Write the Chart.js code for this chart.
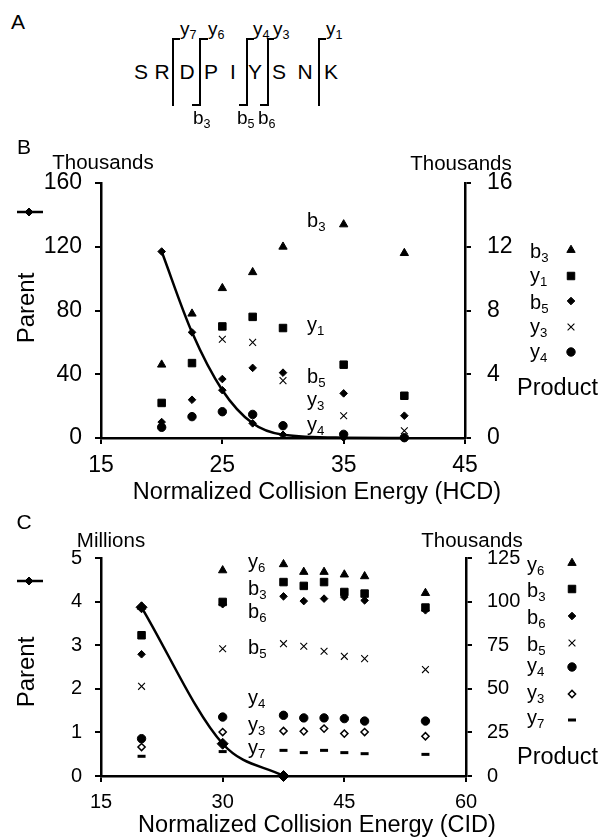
<!DOCTYPE html>
<html>
<head>
<meta charset="utf-8">
<script src="https://cdn.jsdelivr.net/npm/chart.js@4.4.1/dist/chart.umd.min.js"></script>
<style>
  html, body { margin: 0; padding: 0; background: #fff; }
  #page { position: relative; width: 608px; height: 839px; overflow: hidden;
          font-family: "Liberation Sans", Arial, sans-serif; color: #000; }
  .t { position: absolute; line-height: 1; white-space: nowrap; }
  .s { font-size: 0.66em; position: relative; top: 0.3em; }
  .bar { position: absolute; background: #000; }
  canvas { position: absolute; left: 0; }
</style>
</head>
<body>
<div id="page">
  <canvas id="chartB" width="608" height="380" style="top:130px;width:608px;height:380px"></canvas>
  <canvas id="chartC" width="608" height="329" style="top:510px;width:608px;height:329px"></canvas>
</div>
<script>
// ---- HCD (panel B): parent in thousands, products in thousands ----
const energyHCD = [20, 22.5, 25, 27.5, 30, 35, 40];
const parentHCD = [117, 66.3, 30, 9.2, 2.0, 0.2, 0.05];
const hcdB3 = [4.6, 7.8, 9.4, 10.4, 12.0, 13.4, 11.6];
const hcdY1 = [2.2, 4.7, 7.0, 7.6, 6.9, 4.6, 2.65];
const hcdB5 = [1.0, 2.4, 3.7, 4.4, 4.1, 2.8, 1.4];
const hcdY3 = [null, null, 6.2, 6.0, 3.6, 1.4, 0.45];
const hcdY4 = [0.67, 1.34, 1.65, 1.48, 0.77, 0.23, 0.02];
const hcdEnergyTicks = [15, 25, 35, 45];
const hcdParentTicks = [0, 40, 80, 120, 160];
const hcdProductTicks = [0, 4, 8, 12, 16];

// ---- CID (panel C): parent in millions, products in thousands ----
const energyCID = [20, 30, 37.5, 40, 42.5, 45, 47.5, 55];
const parentCID = [3.87, 0.74, 0];
const cidY6 = [97, 117.9, 121.4, 117, 117, 115.5, 114.5, 104.9];
const cidB3 = [80.7, 99.8, 111.2, 109, 111.2, 105.5, 104.6, 96.6];
const cidB6 = [69.8, 98.5, 103, 100.3, 101.7, 102.6, 100.7, 95];
const cidB5 = [51.4, 73, 75.9, 74.4, 71.5, 68.6, 67.3, 61];
const cidY4 = [21.4, 33.8, 34.8, 33.3, 33.3, 32.9, 31.5, 31.5];
const cidY3 = [16.6, 25.2, 25.8, 25.6, 27.2, 24.3, 25.2, 22.8];
const cidY7 = [11.3, 14, 14.7, 13.4, 14.7, 13.4, 12.8, 12.4];
const cidEnergyTicks = [15, 30, 45, 60];
const cidParentTicks = [0, 1, 2, 3, 4, 5];
const cidProductTicks = [0, 25, 50, 75, 100, 125];

const FONT = '"Liberation Sans", Arial, sans-serif';

// marker looks
const M = {
  tri:  { pointStyle: 'triangle', radius: 4.8, bg: '#000', bw: 1 },
  sq:   { pointStyle: 'rect',     radius: 5.3, bg: '#000', bw: 1 },
  dia:  { pointStyle: 'rectRot',  radius: 3.8, bg: '#000', bw: 1 },
  x:    { pointStyle: 'crossRot', radius: 4.8, bg: '#000', bw: 1.1 },
  dot:  { pointStyle: 'circle',   radius: 4.2, bg: '#000', bw: 1 },
  odia: { pointStyle: 'rectRot',  radius: 3.6, bg: '#fff', bw: 1.5 },
  dash: { pointStyle: 'line',     radius: 4,   bg: '#000', bw: 3 }
};

function pts(xs, ys) {
  return ys.map((v, i) => ({ x: xs[i], y: v }));
}
function scatterSet(label, xs, ys, m) {
  return {
    label, data: pts(xs, ys), yAxisID: 'yR', showLine: false, clip: false,
    pointStyle: m.pointStyle, pointRadius: m.radius, pointHoverRadius: m.radius,
    pointBackgroundColor: m.bg, pointBorderColor: '#000', pointBorderWidth: m.bw
  };
}
function parentSet(xs, ys, r) {
  return {
    label: 'Parent', data: pts(xs, ys), yAxisID: 'yL', showLine: true, clip: false,
    borderColor: '#000', borderWidth: 2.5, cubicInterpolationMode: 'monotone',
    pointStyle: 'rectRot', pointRadius: r, pointHoverRadius: r,
    pointBackgroundColor: '#000', pointBorderColor: '#000', pointBorderWidth: 1
  };
}

// draws the key markers beside the product labels and the parent key on the left
const keyMarks = {
  id: 'keyMarks',
  afterDraw(chart, args, opts) {
    const ctx = chart.ctx;
    (opts.items || []).forEach(it => {
      ctx.save();
      if (it.line) {
        ctx.strokeStyle = '#000';
        ctx.lineWidth = 2.5;
        ctx.beginPath();
        ctx.moveTo(it.line[0], it.y);
        ctx.lineTo(it.line[1], it.y);
        ctx.stroke();
      }
      ctx.fillStyle = it.m.bg;
      ctx.strokeStyle = '#000';
      ctx.lineWidth = it.m.bw;
      Chart.helpers.drawPoint(ctx, {
        pointStyle: it.m.pointStyle, radius: it.m.radius, rotation: 0, borderWidth: it.m.bw
      }, it.x, it.y);
      ctx.restore();
    });
  }
};

function axisY(ticksArr, pos, width, size, pad) {
  return {
    type: 'linear', position: pos,
    min: ticksArr[0], max: ticksArr[ticksArr.length - 1],
    afterBuildTicks: s => { s.ticks = ticksArr.map(v => ({ value: v })); },
    afterFit: s => { s.width = width; s.paddingTop = 0; s.paddingBottom = 0; },
    border: { display: true, color: '#000', width: 2.5 },
    grid: { drawOnChartArea: false, drawTicks: true, tickLength: 6, color: '#000', lineWidth: 2 },
    ticks: { color: '#000', padding: pad, font: { family: FONT, size } }
  };
}
function axisX(ticksArr, height, size, pad) {
  return {
    type: 'linear', position: 'bottom',
    min: ticksArr[0], max: ticksArr[ticksArr.length - 1],
    afterBuildTicks: s => { s.ticks = ticksArr.map(v => ({ value: v })); },
    afterFit: s => { s.height = height; s.paddingLeft = 0; s.paddingRight = 0; },
    border: { display: true, color: '#000', width: 2.5 },
    grid: { drawOnChartArea: false, drawTicks: true, tickLength: 6, color: '#000', lineWidth: 2 },
    ticks: { color: '#000', padding: pad, maxRotation: 0, font: { family: FONT, size } }
  };
}

const common = {
  responsive: false, animation: false, events: [],
  plugins: { legend: { display: false }, tooltip: { enabled: false } }
};

new Chart(document.getElementById('chartB'), {
  type: 'scatter',
  data: {
    datasets: [
      parentSet(energyHCD, parentHCD, 3.8),
      scatterSet('b3', energyHCD, hcdB3, M.tri),
      scatterSet('y1', energyHCD, hcdY1, M.sq),
      scatterSet('b5', energyHCD, hcdB5, M.dia),
      scatterSet('y3', energyHCD, hcdY3, M.x),
      scatterSet('y4', energyHCD, hcdY4, M.dot)
    ]
  },
  options: Object.assign({}, common, {
    layout: { padding: { top: 53, left: 0, right: 0, bottom: 0 } },
    scales: {
      x: axisX(hcdEnergyTicks, 72, 23, 8),
      yL: axisY(hcdParentTicks, 'left', 101, 23, 13),
      yR: axisY(hcdProductTicks, 'right', 143, 23, 16)
    },
    plugins: Object.assign({}, common.plugins, {
      keyMarks: { items: [
        { m: Object.assign({}, M.dia, { radius: 4 }), x: 29, y: 82, line: [17, 43] },
        { m: M.tri, x: 571, y: 120 },
        { m: M.sq,  x: 571, y: 146 },
        { m: M.dia, x: 571, y: 171 },
        { m: M.x,   x: 571, y: 197 },
        { m: M.dot, x: 571, y: 222 }
      ] }
    })
  }),
  plugins: [keyMarks]
});

new Chart(document.getElementById('chartC'), {
  type: 'scatter',
  data: {
    datasets: [
      parentSet(energyCID, parentCID, 5.5),
      scatterSet('y6', energyCID, cidY6, M.tri),
      scatterSet('b3', energyCID, cidB3, M.sq),
      scatterSet('b6', energyCID, cidB6, M.dia),
      scatterSet('b5', energyCID, cidB5, M.x),
      scatterSet('y4', energyCID, cidY4, M.dot),
      scatterSet('y3', energyCID, cidY3, M.odia),
      scatterSet('y7', energyCID, cidY7, M.dash)
    ]
  },
  options: Object.assign({}, common, {
    layout: { padding: { top: 48, left: 0, right: 0, bottom: 0 } },
    scales: {
      x: axisX(cidEnergyTicks, 63, 20, 8),
      yL: axisY(cidParentTicks, 'left', 101, 20, 13),
      yR: axisY(cidProductTicks, 'right', 142, 20, 15)
    },
    plugins: Object.assign({}, common.plugins, {
      keyMarks: { items: [
        { m: Object.assign({}, M.dia, { radius: 4 }), x: 29, y: 71, line: [17, 43] },
        { m: M.tri,  x: 572, y: 53 },
        { m: M.sq,   x: 572, y: 79 },
        { m: M.dia,  x: 572, y: 106 },
        { m: M.x,    x: 572, y: 133 },
        { m: M.dot,  x: 572, y: 157 },
        { m: M.odia, x: 572, y: 184 },
        { m: M.dash, x: 572, y: 210 }
      ] }
    })
  }),
  plugins: [keyMarks]
});

// ---- text and the cleavage diagram ----
const page = document.getElementById('page');
function sub(a, b) { return a + '<span class="s">' + b + '</span>'; }
function text(html, x, y, size, align, rotate) {
  const d = document.createElement('div');
  d.className = 't';
  d.innerHTML = html;
  d.style.fontSize = size + 'px';
  d.style.left = x + 'px';
  d.style.top = y + 'px';
  const tx = align === 'center' ? '-50%' : align === 'right' ? '-100%' : '0';
  d.style.transform = 'translate(' + tx + ',-50%)' + (rotate ? ' rotate(' + rotate + 'deg)' : '');
  page.appendChild(d);
}
function bar(x, y, w, h) {
  const d = document.createElement('div');
  d.className = 'bar';
  d.style.left = x + 'px'; d.style.top = y + 'px';
  d.style.width = w + 'px'; d.style.height = h + 'px';
  page.appendChild(d);
}

// panel letters
text('A', 18, 21, 21, 'center');
text('B', 24, 146, 21, 'center');
text('C', 24, 521, 21, 'center');

// peptide sequence
const residues = ['S', 'R', 'D', 'P', 'I', 'Y', 'S', 'N', 'K'];
const residueX = [141, 162, 187, 211, 233, 255, 279, 305, 331];
residues.forEach((r, i) => text(r, residueX[i], 71, 21, 'center'));

// fragmentation brackets
[[172, 180], [199, 208], [246, 254], [267, 274], [318, 326]].forEach(([x, xe]) => {
  bar(x, 38, 2, 68);
  bar(x, 38, xe - x, 2);
});
[[192, 199], [239, 246], [260, 267]].forEach(([xs, x]) => bar(xs, 104, x - xs + 2, 2));
text(sub('y', '7'), 180, 28, 19);
text(sub('y', '6'), 208, 28, 19);
text(sub('y', '4'), 253, 28, 19);
text(sub('y', '3'), 273, 28, 19);
text(sub('y', '1'), 326, 28, 19);
text(sub('b', '3'), 193, 117, 19);
text(sub('b', '5'), 237, 117, 19);
text(sub('b', '6'), 258, 117, 19);

// panel B labels
text('Thousands', 103, 162, 20.5, 'center');
text('Thousands', 461, 163, 20.5, 'center');
text('Parent', 26, 308, 24, 'center', -90);
text('Normalized Collision Energy (HCD)', 317, 492, 23.5, 'center');
text('Product', 517, 388, 23.5);
[['b', '3', 251], ['y', '1', 275], ['b', '5', 302], ['y', '3', 326], ['y', '4', 351]]
  .forEach(([a, b, y]) => text(sub(a, b), 530, y, 20));
[['b', '3', 220], ['y', '1', 324], ['b', '5', 376], ['y', '3', 399], ['y', '4', 424]]
  .forEach(([a, b, y]) => text(sub(a, b), 307, y, 20));

// panel C labels
text('Millions', 111, 540, 20.5, 'center');
text('Thousands', 472, 540, 20.5, 'center');
text('Parent', 26, 672, 24, 'center', -90);
text('Normalized Collision Energy (CID)', 317, 825, 23.5, 'center');
text('Product', 517, 757, 23.5);
[['y', '6', 564], ['b', '3', 590], ['b', '6', 617], ['b', '5', 644], ['y', '4', 665], ['y', '3', 692], ['y', '7', 717]]
  .forEach(([a, b, y]) => text(sub(a, b), 527, y, 20));
[['y', '6', 561], ['b', '3', 588], ['b', '6', 611], ['b', '5', 647], ['y', '4', 697], ['y', '3', 724], ['y', '7', 747]]
  .forEach(([a, b, y]) => text(sub(a, b), 248, y, 20));
</script>
</body>
</html>
